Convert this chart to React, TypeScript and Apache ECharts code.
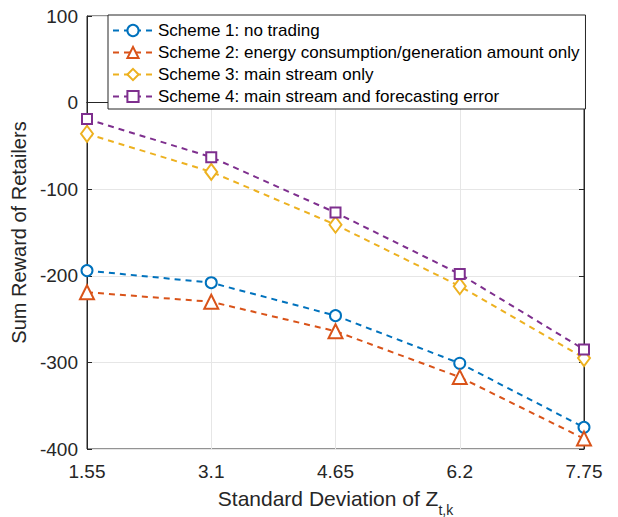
import React, { useEffect, useRef } from "react";
import * as echarts from "echarts";

const xLabels = ["1.55", "3.1", "4.65", "6.2", "7.75"];
const scheme1 = [-194, -208, -246, -301, -375];
const scheme2 = [-219, -230, -264, -317, -388];
const scheme3 = [-36, -80, -141, -212, -295];
const scheme4 = [-19, -63, -127, -198, -285];
const seriesNames = [
  "Scheme 1: no trading",
  "Scheme 2: energy consumption/generation amount only",
  "Scheme 3: main stream only",
  "Scheme 4: main stream and forecasting error",
];
const colors = ["#0072BD", "#D95319", "#EDB120", "#7E2F8E"];
const symbols = ["emptyCircle", "emptyTriangle", "emptyDiamond", "emptyRect"];
const symbolSizes: any[] = [11, 14, [12, 16], 10];

const FONT = "'Liberation Sans', Arial, Helvetica, sans-serif";
const TXT = "#262626";

export default function App() {
  const ref = useRef<HTMLDivElement>(null);
  useEffect(() => {
    document.body.style.margin = "0";
    const chart = echarts.init(ref.current!, null, { renderer: "svg" });
    const data = [scheme1, scheme2, scheme3, scheme4];
    const series = data.map((d, i) => ({
      name: seriesNames[i],
      type: "line",
      data: d,
      symbol: symbols[i],
      symbolSize: symbolSizes[i],
      showAllSymbol: true,
      itemStyle: { color: colors[i], borderWidth: 2 },
      lineStyle: { color: colors[i], width: 2, type: [6, 5] },
      z: 3,
    }));
    chart.setOption({
      animation: false,
      backgroundColor: "#ffffff",
      textStyle: { fontFamily: FONT },
      grid: {
        left: 87,
        right: 34,
        top: 16,
        bottom: 68,
        show: true,
        borderColor: TXT,
        borderWidth: 1,
        backgroundColor: "#ffffff",
        outerBoundsMode: "none",
      },
      legend: {
        data: seriesNames,
        orient: "vertical",
        left: 108,
        top: 15,
        align: "left",
        backgroundColor: "#ffffff",
        borderColor: TXT,
        borderWidth: 1,
        borderRadius: 0,
        padding: [7, 6, 4, 4],
        itemWidth: 40,
        itemHeight: 14,
        itemGap: 5,
        textStyle: { fontSize: 17, color: "#000", fontFamily: FONT, lineHeight: 16 },
        selectedMode: false,
      },
      xAxis: [
        {
          type: "category",
          data: xLabels,
          boundaryGap: false,
          name: "{m|Standard Deviation of Z}{s|t,k}",
          nameLocation: "middle",
          nameGap: 39,
          nameTextStyle: {
            rich: {
              m: { fontSize: 21, color: TXT, fontFamily: FONT, lineHeight: 20, verticalAlign: "top" },
              s: { fontSize: 14, color: TXT, fontFamily: FONT, lineHeight: 44, verticalAlign: "middle" },
            },
          },
          axisLine: { show: true, lineStyle: { color: TXT, width: 1 } },
          axisTick: { show: true, inside: true, length: 5, lineStyle: { color: TXT } },
          axisLabel: { fontSize: 19, color: TXT, margin: 13, fontFamily: FONT },
          splitLine: { show: true, lineStyle: { color: "#e6e6e6", width: 1 } },
        },
        {
          type: "category",
          data: xLabels,
          boundaryGap: false,
          position: "top",
          axisLine: { show: true, lineStyle: { color: TXT, width: 1 } },
          axisTick: { show: true, inside: true, length: 5, lineStyle: { color: TXT } },
          axisLabel: { show: false },
          splitLine: { show: false },
        },
      ],
      yAxis: [
        {
          type: "value",
          min: -400,
          max: 100,
          interval: 100,
          name: "Sum Reward of Retailers",
          nameLocation: "middle",
          nameGap: 53,
          nameTextStyle: { fontSize: 20, color: TXT, fontFamily: FONT },
          axisLine: { show: true, lineStyle: { color: TXT, width: 1 } },
          axisTick: { show: true, inside: true, length: 5, lineStyle: { color: TXT } },
          axisLabel: { fontSize: 19, color: TXT, margin: 9, fontFamily: FONT },
          splitLine: { show: true, lineStyle: { color: "#e6e6e6", width: 1 } },
        },
        {
          type: "value",
          min: -400,
          max: 100,
          interval: 100,
          position: "right",
          axisLine: { show: true, lineStyle: { color: TXT, width: 1 } },
          axisTick: { show: true, inside: true, length: 5, lineStyle: { color: TXT } },
          axisLabel: { show: false },
          splitLine: { show: false },
        },
      ],
      series,
    });
    return () => chart.dispose();
  }, []);
  return <div ref={ref} style={{ width: 618, height: 517 }} />;
}
